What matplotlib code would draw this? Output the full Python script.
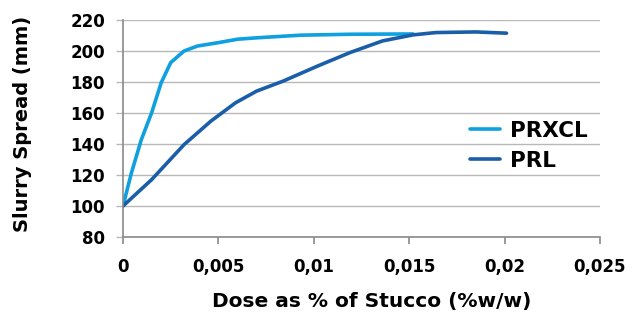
import matplotlib
matplotlib.use("Agg")
import matplotlib.pyplot as plt
from matplotlib.ticker import FuncFormatter

# -------------------------------------------------------
# Data
# -------------------------------------------------------
prxcl_dose = [0, 0.00044, 0.00096, 0.0015, 0.0020, 0.0025, 0.0032, 0.0039,
              0.0050, 0.0060, 0.0070, 0.0093, 0.0119, 0.0152]
prxcl_spread = [100, 121.3, 142.8, 160.1, 179.5, 192.5, 200, 203.2,
                205.4, 207.6, 208.5, 210.2, 210.8, 211]

prl_dose = [0, 0.0015, 0.0032, 0.0046, 0.0059, 0.0070, 0.0084, 0.0102,
            0.0119, 0.0136, 0.0152, 0.0164, 0.0185, 0.0201]
prl_spread = [100, 117, 139.6, 154.7, 166.6, 174.1, 180.6, 190.3,
              199, 206.5, 210.4, 211.9, 212.3, 211.5]

x_ticks = [0, 0.005, 0.01, 0.015, 0.02, 0.025]
y_ticks = [80, 100, 120, 140, 160, 180, 200, 220]

plt.rcParams['font.family'] = ['DejaVu Sans']

light_blue = "#0ea0df"
dark_blue = "#1a5ea9"
grid_grey = "#b8b8b8"
axis_grey = "#8a8a8a"

fig = plt.figure(figsize=(6.41, 3.18), dpi=100)
ax = fig.add_axes([123 / 641, 81 / 318, 477 / 641, 217 / 318])

ax.plot(prxcl_dose, prxcl_spread, color=light_blue, lw=2.6, label="PRXCL",
        solid_capstyle="round", solid_joinstyle="round")
ax.plot(prl_dose, prl_spread, color=dark_blue, lw=2.6, label="PRL",
        solid_capstyle="round", solid_joinstyle="round")

ax.set_xlim(0, 0.025)
ax.set_ylim(80, 220)
ax.set_xticks(x_ticks)
ax.set_yticks(y_ticks)


def comma_fmt(v, pos):
    if v == 0:
        return "0"
    return ("%g" % v).replace(".", ",")


ax.xaxis.set_major_formatter(FuncFormatter(comma_fmt))
ax.yaxis.grid(True, color=grid_grey, lw=1)
ax.set_axisbelow(True)

for side in ["top", "right"]:
    ax.spines[side].set_visible(False)
for side in ["left", "bottom"]:
    ax.spines[side].set_color(axis_grey)
    ax.spines[side].set_linewidth(1.2)

ax.tick_params(axis="x", direction="out", length=5, width=1.2, color=axis_grey,
               labelsize=12, pad=10)
ax.tick_params(axis="y", direction="out", length=5, width=1, color=grid_grey,
               labelsize=12, pad=8)
for lbl in ax.get_xticklabels() + ax.get_yticklabels():
    lbl.set_fontweight("bold")

ax.set_xlabel("Dose as % of Stucco (%w/w)", fontsize=14.5, fontweight="bold")
ax.set_ylabel("Slurry Spread (mm)", fontsize=14, fontweight="bold")
ax.xaxis.set_label_coords(0.522, -0.255)
ax.yaxis.set_label_coords(-0.19, 0.52)

leg = ax.legend(loc="center left", bbox_to_anchor=(0.705, 0.42), frameon=False,
                prop={"weight": "bold", "size": 15.5}, handlelength=1.4,
                handletextpad=0.45, labelspacing=0.45, borderpad=0)

fig.savefig("out.png", dpi=100)
